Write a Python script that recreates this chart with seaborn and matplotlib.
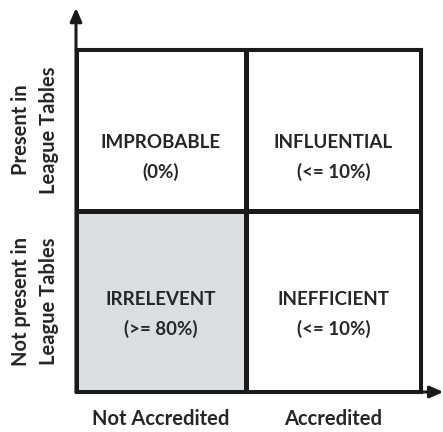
import numpy as np
import pandas as pd
import seaborn as sns
import matplotlib.pyplot as plt

# categories of the 2x2 matrix
row_labels = ['Present in\nLeague Tables', 'Not present in\nLeague Tables']
col_labels = ['Not Accredited', 'Accredited']

# quadrant names and shares
names = [['IMPROBABLE', 'INFLUENTIAL'],
         ['IRRELEVENT', 'INEFFICIENT']]
shares = [['(0%)', '(<= 10%)'],
          ['(>= 80%)', '(<= 10%)']]

# which cell is shaded (1 = grey)
shade = [[0, 0],
         [1, 0]]

sns.set_style('white')
plt.rcParams['font.family'] = ['Lato', 'DejaVu Sans']

df = pd.DataFrame(shade, index=row_labels, columns=col_labels)

fig = plt.figure(figsize=(4.43, 4.32), dpi=100)
ax = fig.add_axes([76 / 443, 1 - 392 / 432, 345 / 443, 343 / 432])

sns.heatmap(df, ax=ax, cmap=['white', '#dcdddf'], cbar=False,
            linewidths=2.2, linecolor='#1a1a1a', square=False)


# rows / columns are not quite the same size in the original
def piece(a, b):
    fwd = lambda v: np.where(v <= 1, v * a, a + (v - 1) * b)
    inv = lambda v: np.where(v <= a, v / a, 1 + (v - a) / b)
    return fwd, inv


ax.set_xscale('function', functions=piece(170, 175))
ax.set_yscale('function', functions=piece(162, 181))
ax.set_xlim(0, 2)
ax.set_ylim(2, 0)

for s in ax.spines.values():
    s.set_visible(True)
    s.set_linewidth(2.2)
    s.set_color('#1a1a1a')

# quadrant text (two lines each, placed inside the cell)
line_pos = [(0.58, 0.76), (0.49, 0.65)]
for i in range(2):
    for j in range(2):
        ax.text(j + 0.5, i + line_pos[i][0], names[i][j],
                ha='center', va='center', fontsize=13.5, fontweight='bold',
                color='#262626')
        ax.text(j + 0.5, i + line_pos[i][1], shares[i][j],
                ha='center', va='center', fontsize=13.5, fontweight='bold',
                color='#262626')

ax.set_xticks([0.5, 1.5])
ax.set_yticks([0.5, 1.5])
ax.minorticks_off()
ax.tick_params(length=0)
ax.set_xticklabels(col_labels, fontsize=14.5, fontweight='bold', color='#262626')
ax.set_yticklabels(row_labels, fontsize=14.5, fontweight='bold', color='#262626',
                   rotation=90, va='center', ma='center', linespacing=1.5)
ax.tick_params(axis='x', pad=12)
ax.tick_params(axis='y', pad=12)
ax.set_xlabel('')
ax.set_ylabel('')

# axis arrows
ax.annotate('', xy=(0, 1.12), xytext=(0, 0), xycoords='axes fraction',
            arrowprops=dict(arrowstyle='-|>,head_width=0.35,head_length=0.8',
                            lw=2.2, color='#1a1a1a', shrinkA=0, shrinkB=0))
ax.annotate('', xy=(1.065, 0), xytext=(0, 0), xycoords='axes fraction',
            arrowprops=dict(arrowstyle='-|>,head_width=0.35,head_length=0.8',
                            lw=2.2, color='#1a1a1a', shrinkA=0, shrinkB=0))

fig.savefig('out.png', dpi=100)
